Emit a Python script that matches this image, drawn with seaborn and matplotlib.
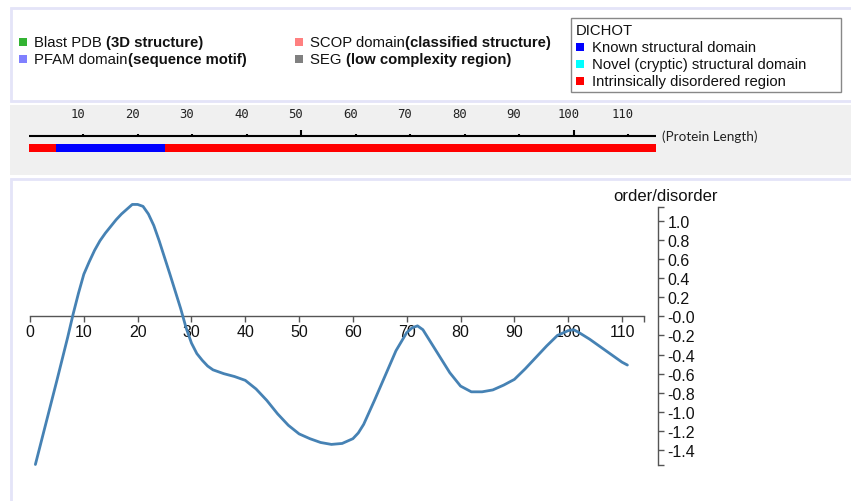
import matplotlib
matplotlib.use('Agg')
import matplotlib.pyplot as plt
from matplotlib.patches import Rectangle
from matplotlib.transforms import offset_copy
import numpy as np
import pandas as pd
import seaborn as sns

# order/disorder profile
residue = [1, 3, 5, 7, 8, 9, 10, 11, 12, 13, 14, 15, 16, 17, 18, 19, 20, 21, 22, 23, 24,
           26, 28, 29, 30, 31, 32, 33, 34, 36, 38, 40, 42, 44, 46, 48, 50, 52, 54, 56, 58,
           60, 61, 62, 64, 66, 68, 70, 71, 72, 73, 74, 76, 78, 80, 82, 84, 86, 88, 90, 92,
           94, 96, 98, 100, 101, 102, 104, 106, 108, 110, 111]
score = [-1.55, -1.11, -0.67, -0.22, 0.02, 0.24, 0.44, 0.57, 0.69, 0.79, 0.87, 0.94, 1.01,
         1.07, 1.12, 1.17, 1.17, 1.15, 1.07, 0.95, 0.79, 0.44, 0.08, -0.12, -0.28, -0.39,
         -0.46, -0.52, -0.56, -0.60, -0.63, -0.67, -0.76, -0.88, -1.02, -1.14, -1.23, -1.28,
         -1.32, -1.34, -1.33, -1.28, -1.22, -1.13, -0.88, -0.62, -0.36, -0.17, -0.12, -0.10,
         -0.14, -0.23, -0.41, -0.59, -0.73, -0.79, -0.79, -0.77, -0.72, -0.66, -0.55, -0.43,
         -0.31, -0.20, -0.15, -0.14, -0.17, -0.24, -0.32, -0.40, -0.48, -0.51]

x_ticks = [0, 10, 20, 30, 40, 50, 60, 70, 80, 90, 100, 110]
x_axis_end = 114
y_ticks = [1.0, 0.8, 0.6, 0.4, 0.2, 0.0, -0.2, -0.4, -0.6, -0.8, -1.0, -1.2, -1.4]
y_labels = ['1.0', '0.8', '0.6', '0.4', '0.2', '-0.0', '-0.2', '-0.4', '-0.6', '-0.8',
            '-1.0', '-1.2', '-1.4']
y_domain = [-1.555, 1.14]

# sequence track
protein_length = 115
ruler_ticks = [10, 20, 30, 40, 50, 60, 70, 80, 90, 100, 110]
ruler_major = [50, 100]
seg_start = [0, 5, 25]
seg_end = [5, 25, 115]
seg_color = ['#ff0000', '#0000ff', '#ff0000']

# legends
source_names = ['Blast PDB ', 'PFAM domain', 'SCOP domain', 'SEG ']
source_notes = ['(3D structure)', '(sequence motif)', '(classified structure)',
                '(low complexity region)']
source_colors = ['#33b333', '#8080ff', '#ff8080', '#808080']
dichot_labels = ['Known structural domain', 'Novel (cryptic) structural domain',
                 'Intrinsically disordered region']
dichot_colors = ['#0000ff', '#00ffff', '#ff0000']

sns.set_theme(style='white')
plt.rcParams['font.family'] = ['Liberation Sans', 'DejaVu Sans']

W, H = 851, 502
fig = plt.figure(figsize=(W / 100, H / 100), dpi=100)
fig.patch.set_facecolor('white')


def px_axes(x0, y0, x1, y1):
    return fig.add_axes([x0 / W, 1 - y1 / H, (x1 - x0) / W, (y1 - y0) / H])


##-> background panels (pixel coords)
bg = px_axes(0, 0, W, H)
bg.set_xlim(0, W)
bg.set_ylim(H, 0)
bg.axis('off')
lav = '#e4e4f8'
bg.add_patch(Rectangle((11.3, 8.5), 860, 93, facecolor='white', edgecolor=lav, lw=2))
bg.add_patch(Rectangle((10, 106), 860, 70, facecolor='#f0f0f0', edgecolor='none'))
bg.add_patch(Rectangle((11.3, 179.5), 860, 400, facecolor='white', edgecolor=lav, lw=2))

# legend rows
fs_leg = 10.7
rows_x = [34, 34, 310, 310]
rows_y = [43, 60, 43, 60]
for name, note, x, y in zip(source_names, source_notes, rows_x, rows_y):
    t = bg.text(x, y, name, va='center', ha='left', fontsize=fs_leg, color='#111')
    bg.annotate(note, xy=(1, 0), xycoords=t, va='bottom', ha='left', fontsize=fs_leg,
                fontweight='bold', color='#111')
bg.scatter([x - 11 for x in rows_x], rows_y, marker='s', s=34, c=source_colors, linewidths=0)

bg.add_patch(Rectangle((570.5, 19), 270.5, 74, facecolor='white', edgecolor='#888888', lw=1))
bg.text(576, 31, 'DICHOT', va='center', ha='left', fontsize=fs_leg, color='#111')
dy = [48, 65, 82]
for lab, y in zip(dichot_labels, dy):
    bg.text(592, y, lab, va='center', ha='left', fontsize=fs_leg, color='#111')
bg.scatter([580] * 3, dy, marker='s', s=34, c=dichot_colors, linewidths=0)
# background <-##

##-> sequence track
tr = px_axes(28.9, 106, 655.6, 176)
tr.set_xlim(0, protein_length)
tr.set_ylim(176, 106)
tr.axis('off')
tr.plot([0, protein_length], [137, 137], color='black', lw=1.5, solid_capstyle='butt')
minor = [t for t in ruler_ticks if t not in ruler_major]
tr.vlines(minor, 135, 137, color='black', lw=1.5)
tr.vlines(ruler_major, 131, 137, color='black', lw=1.5)
lab_tr = offset_copy(tr.transData, fig, x=-5.5, y=0, units='dots')
for t in ruler_ticks:
    tr.text(t, 115, str(t), transform=lab_tr, ha='center', va='center', fontsize=8.8,
            family='DejaVu Sans Mono', color='#222')
tr.barh(149, [e - s for s, e in zip(seg_start, seg_end)], left=seg_start, height=8,
        color=seg_color, linewidth=0)
bg.text(662, 137, '(Protein Length)', va='center', ha='left', fontsize=9.7, family='Lato',
        color='#222')
# track <-##

##-> order/disorder plot
x0px, px_per_res = 30, 5.382
y0px, px_per_unit = 317.3, 95.6
ax_x1, ax_y0, ax_y1 = 700, 200, 470
ax = px_axes(x0px, ax_y0, ax_x1, ax_y1)
ax.set_facecolor('none')
ax.set_xlim(0, (ax_x1 - x0px) / px_per_res)
ax.set_ylim((y0px - ax_y1) / px_per_unit, (y0px - ax_y0) / px_per_unit)

df = pd.DataFrame({'residue': residue, 'score': score})
sns.lineplot(data=df, x='residue', y='score', ax=ax, color='#4682b4', linewidth=2, zorder=5)
ax.set_xlabel('')
ax.set_ylabel('')

for s in ['top', 'left']:
    ax.spines[s].set_visible(False)
axis_col = '#555555'
ax.spines['bottom'].set_position(('data', 0))
ax.spines['bottom'].set_bounds(0, x_axis_end)
ax.spines['right'].set_visible(True)
ax.spines['right'].set_position(('data', (658.3 - x0px) / px_per_res))
ax.spines['right'].set_bounds(*y_domain)
for s in ['bottom', 'right']:
    ax.spines[s].set_color(axis_col)
    ax.spines[s].set_linewidth(1.0)

ax.xaxis.set_ticks_position('bottom')
ax.yaxis.set_ticks_position('right')
ax.set_xticks(x_ticks)
ax.set_xticklabels([str(t) for t in x_ticks])
ax.set_xticks([x_axis_end], minor=True)
ax.set_yticks(y_ticks)
ax.set_yticklabels(y_labels)
ax.set_yticks(y_domain, minor=True)
ax.tick_params(axis='both', which='both', direction='out', length=4.3, width=1.0,
               color=axis_col, labelsize=11.5, labelcolor='#111', bottom=True, right=True,
               left=False, top=False, labelleft=False, labelright=True)
ax.tick_params(axis='x', which='both', pad=1.5)
ax.tick_params(axis='y', which='both', pad=2.5)
bg.text(666, 196.7, 'order/disorder', ha='center', va='center', fontsize=12, color='#111')
# plot <-##

fig.savefig('out.png', dpi=100)
